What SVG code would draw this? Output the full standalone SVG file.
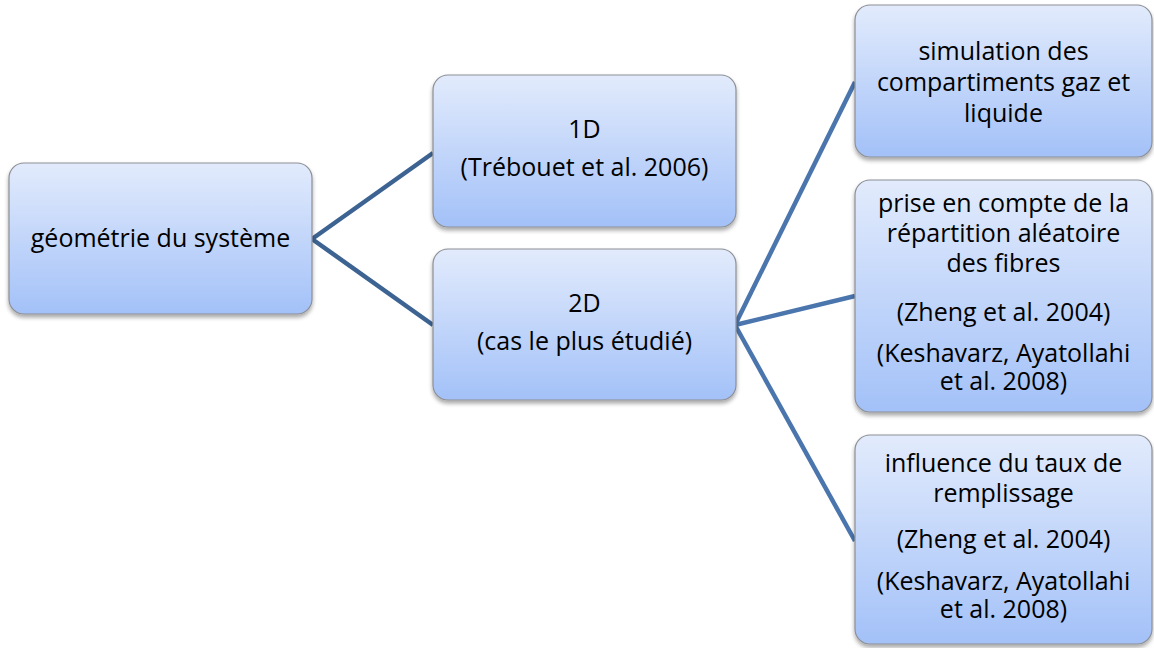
<svg xmlns="http://www.w3.org/2000/svg" width="1154" height="648" viewBox="0 0 1154 648">
<defs>
<linearGradient id="g" x1="0" y1="0" x2="0" y2="1">
<stop offset="0" stop-color="#e2ebfc"/>
<stop offset="1" stop-color="#a3c1f8"/>
</linearGradient>
<filter id="sh" x="-10%" y="-10%" width="120%" height="130%">
<feGaussianBlur in="SourceAlpha" stdDeviation="2"/>
<feOffset dx="0" dy="3" result="b"/>
<feComponentTransfer><feFuncA type="linear" slope="0.35"/></feComponentTransfer>
<feMerge><feMergeNode/><feMergeNode in="SourceGraphic"/></feMerge>
</filter>
</defs>
<style>
.box{fill:url(#g);stroke:#8c8f96;stroke-width:1.2;filter:url(#sh)}
.t{font-family:"Open Sans","Liberation Sans",sans-serif;font-size:25px;fill:#000;text-anchor:middle}
.c1{stroke:#3d6392;stroke-width:4.5;fill:none}
.c2{stroke:#4a75ad;stroke-width:4.5;fill:none}
</style>
<rect width="1154" height="648" fill="#fff"/>
<g id="connectors">
<line class="c1" x1="312" y1="239" x2="433" y2="153"/>
<line class="c1" x1="312" y1="239" x2="433" y2="325"/>
<line class="c2" x1="735" y1="325" x2="855" y2="82"/>
<line class="c2" x1="735" y1="325" x2="855" y2="296"/>
<line class="c2" x1="735" y1="325" x2="855" y2="541"/>
</g>
<g id="n-geometrie">
<rect class="box" x="9" y="163" width="303" height="151" rx="15"/>
<text class="t" x="160.5" y="247">géométrie du système</text>
</g>
<g id="n-1d">
<rect class="box" x="433" y="75" width="303" height="152" rx="15"/>
<text class="t" x="584.5" y="138">1D</text>
<text class="t" x="584.5" y="176">(Trébouet et al. 2006)</text>
</g>
<g id="n-2d">
<rect class="box" x="433" y="249" width="303" height="151" rx="15"/>
<text class="t" x="584.5" y="312">2D</text>
<text class="t" x="584.5" y="350">(cas le plus étudié)</text>
</g>
<g id="n-simulation">
<rect class="box" x="855" y="5" width="297" height="152" rx="15"/>
<text class="t" x="1003.5" y="60">simulation des</text>
<text class="t" x="1003.5" y="91">compartiments gaz et</text>
<text class="t" x="1003.5" y="122">liquide</text>
</g>
<g id="n-repartition">
<rect class="box" x="855" y="180" width="297" height="232" rx="15"/>
<text class="t" x="1003.5" y="212">prise en compte de la</text>
<text class="t" x="1003.5" y="242">répartition aléatoire</text>
<text class="t" x="1003.5" y="272">des fibres</text>
<text class="t" x="1003.5" y="321">(Zheng et al. 2004)</text>
<text class="t" x="1003.5" y="362">(Keshavarz, Ayatollahi</text>
<text class="t" x="1003.5" y="390">et al. 2008)</text>
</g>
<g id="n-remplissage">
<rect class="box" x="855" y="435" width="297" height="209" rx="15"/>
<text class="t" x="1003.5" y="472">influence du taux de</text>
<text class="t" x="1003.5" y="502">remplissage</text>
<text class="t" x="1003.5" y="548">(Zheng et al. 2004)</text>
<text class="t" x="1003.5" y="590">(Keshavarz, Ayatollahi</text>
<text class="t" x="1003.5" y="618">et al. 2008)</text>
</g>
</svg>
